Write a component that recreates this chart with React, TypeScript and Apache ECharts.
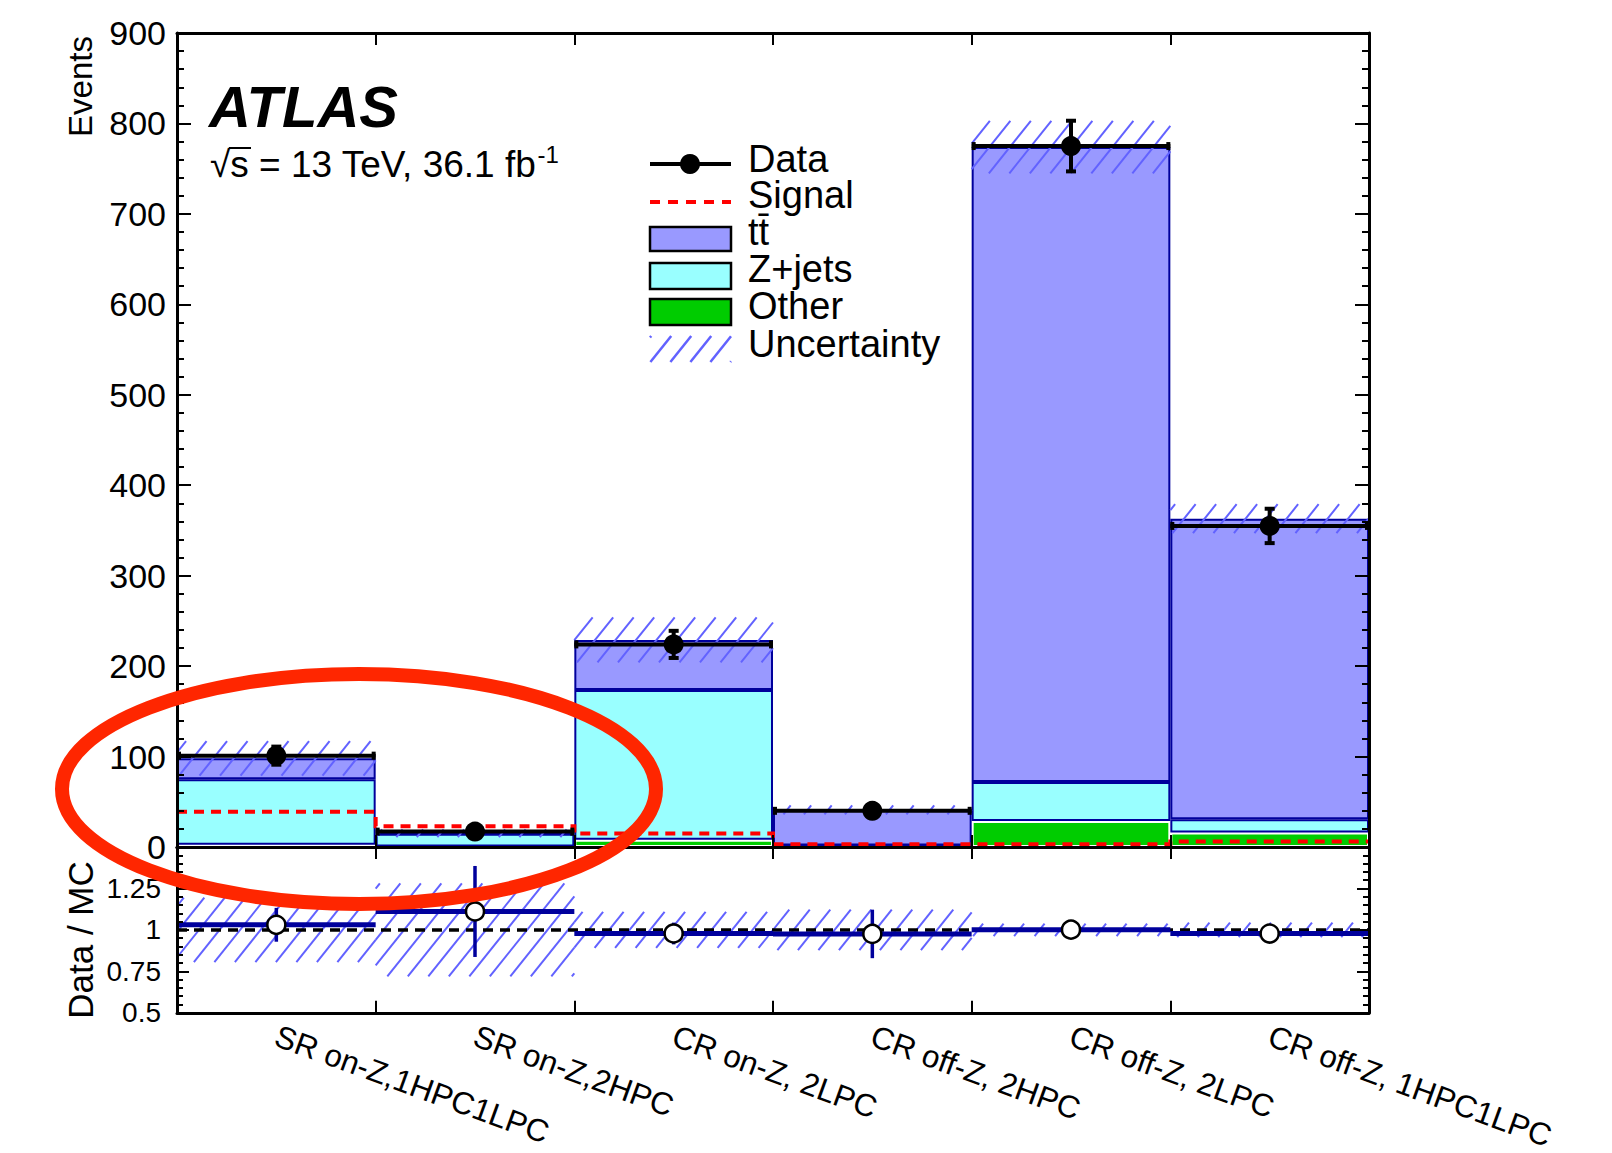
import React, { useEffect, useRef } from 'react';
import * as echarts from 'echarts';

// ---------------- data ----------------
const categories = [
  'SR on-Z,1HPC1LPC',
  'SR on-Z,2HPC',
  'CR on-Z, 2LPC',
  'CR off-Z, 2HPC',
  'CR off-Z, 2LPC',
  'CR off-Z, 1HPC1LPC',
];
const otherBkg = [2.5, 0.5, 8, 0.8, 28.7, 15.9];
const zjetsBkg = [72.5, 14.2, 165.5, 0.8, 43.2, 14.7];
const ttbarBkg = [23, 0.6, 55.5, 39.4, 702, 332.4];
const dataObs = [101, 17, 224, 40, 775, 355];
const dataErr = [10, 4.2, 15, 6, 28, 19];
const mcUnc = [19, 4.3, 25, 5, 29, 16];
const signal = [39, 23, 15, 3, 3, 6];
const mainTicks = { min: 0, max: 900, interval: 100 };
const ratioTicks = { min: 0.5, max: 1.5, interval: 0.25 };

const FONT = "'Liberation Sans', Arial, Helvetica, sans-serif";
const NAVY = '#00009c';
const HATCH = '#6262ff';
const C_TT = '#9999ff';
const C_ZJ = '#99ffff';
const C_OT = '#00cc00';

const totals = otherBkg.map((v, i) => v + zjetsBkg[i] + ttbarBkg[i]);

function hatch(x0: number, y0: number, x1: number, y1: number, sp: number, m: number, color: string, lw: number) {
  const out: any[] = [];
  const step = m * sp;
  const cmin = m * x0 + y0;
  const cmax = m * x1 + y1;
  for (let c = Math.ceil(cmin / step) * step; c <= cmax; c += step) {
    const xa = Math.max(x0, (c - y1) / m);
    const xb = Math.min(x1, (c - y0) / m);
    if (xb - xa > 0.5) {
      out.push({
        type: 'line',
        silent: true,
        shape: { x1: xa, y1: c - m * xa, x2: xb, y2: c - m * xb },
        style: { stroke: color, lineWidth: lw },
      });
    }
  }
  return out;
}

function buildOption(): any {
  const tickLine = { color: '#000', width: 2 };
  const frameLine = { color: '#000', width: 3 };
  const catAxis = (gridIndex: number, position: string, showLabel: boolean) => ({
    type: 'category',
    data: categories,
    gridIndex,
    position,
    z: 10,
    boundaryGap: true,
    axisLine: { show: true, onZero: false, lineStyle: frameLine },
    axisTick: { show: true, inside: true, length: 12, lineStyle: tickLine },
    axisLabel: showLabel
      ? { show: true, interval: 0, rotate: -20, fontSize: 31.5, color: '#000', fontFamily: FONT, margin: 22 }
      : { show: false },
    splitLine: { show: false },
  });
  const valAxis = (gridIndex: number, position: string, showLabel: boolean, ticks: any, ratio: boolean) => ({
    type: 'value',
    gridIndex,
    position,
    min: ticks.min,
    max: ticks.max,
    interval: ticks.interval,
    z: 10,
    axisLine: { show: true, onZero: false, lineStyle: frameLine },
    axisTick: { show: true, inside: true, length: ratio ? 12 : 14, lineStyle: tickLine },
    minorTick: { show: true, splitNumber: 5, length: ratio ? 6 : 7, lineStyle: tickLine },
    axisLabel: showLabel
      ? {
          show: true,
          fontSize: ratio ? 28 : 34,
          color: '#000',
          fontFamily: FONT,
          margin: ratio ? 16 : 11,
          formatter: (v: number) => (ratio && v >= 1.5 ? '' : String(v)),
        }
      : { show: false },
    splitLine: { show: false },
    minorSplitLine: { show: false },
  });

  const mainHatchData = totals.map((t, i) => [i, t - mcUnc[i], t + mcUnc[i]]);
  const ratioHatchData = totals.map((t, i) => [i, 1 - mcUnc[i] / t, 1 + mcUnc[i] / t]);
  const dataPts = dataObs.map((d, i) => [i, d, dataErr[i]]);
  const ratioPts = dataObs.map((d, i) => [i, d / totals[i], dataErr[i] / totals[i]]);

  const hatchRender = (params: any, api: any) => {
    const i = api.value(0);
    const lo = api.coord([i, api.value(1)]);
    const hi = api.coord([i, api.value(2)]);
    const w = api.size([1, 0])[0];
    return {
      type: 'group',
      children: hatch(lo[0] - w / 2, hi[1], lo[0] + w / 2, lo[1], 20.5, 1.25, HATCH, 2),
    };
  };

  const legendX0 = 650;
  const legendX1 = 731;
  const legendTextX = 748;
  const legendText = (t: string, y: number) => ({
    type: 'text',
    x: legendTextX,
    y,
    z: 50,
    style: {
      text: t, fontSize: 38, lineHeight: 34, fontFamily: FONT, fill: '#000',
      verticalAlign: 'middle', align: 'left',
    },
  });
  const legendBox = (y0: number, y1: number, fill: string) => ({
    type: 'rect',
    z: 50,
    shape: { x: legendX0, y: y0, width: legendX1 - legendX0, height: y1 - y0 },
    style: { fill, stroke: '#000', lineWidth: 2.5 },
  });

  return {
    animation: false,
    backgroundColor: '#ffffff',
    grid: [
      { left: 177, top: 33, width: 1192, height: 814 },
      { left: 177, top: 847, width: 1192, height: 166 },
    ],
    xAxis: [catAxis(0, 'bottom', false), catAxis(0, 'top', false), catAxis(1, 'bottom', true), catAxis(1, 'top', false)],
    yAxis: [
      valAxis(0, 'left', true, mainTicks, false),
      valAxis(0, 'right', false, mainTicks, false),
      valAxis(1, 'left', true, ratioTicks, true),
      valAxis(1, 'right', false, ratioTicks, true),
    ],
    series: [
      {
        type: 'bar', name: 'Other', stack: 'mc', xAxisIndex: 0, yAxisIndex: 0, data: otherBkg,
        barWidth: '100%', barCategoryGap: '0%', z: 2,
        itemStyle: { color: C_OT, borderColor: '#ffffff', borderWidth: 2 },
      },
      {
        type: 'bar', name: 'Z+jets', stack: 'mc', xAxisIndex: 0, yAxisIndex: 0, data: zjetsBkg,
        barWidth: '100%', barCategoryGap: '0%', z: 2,
        itemStyle: { color: C_ZJ, borderColor: NAVY, borderWidth: 2 },
      },
      {
        type: 'bar', name: 'tt', stack: 'mc', xAxisIndex: 0, yAxisIndex: 0, data: ttbarBkg,
        barWidth: '100%', barCategoryGap: '0%', z: 2,
        itemStyle: { color: C_TT, borderColor: NAVY, borderWidth: 2 },
      },
      {
        type: 'custom', name: 'Uncertainty', xAxisIndex: 0, yAxisIndex: 0, z: 3,
        data: mainHatchData, encode: { x: 0, y: [1, 2] }, renderItem: hatchRender,
      },
      {
        type: 'custom', name: 'Signal', xAxisIndex: 0, yAxisIndex: 0, z: 4,
        data: [[0, 0]], encode: { x: 0, y: 1 },
        renderItem: (params: any, api: any) => {
          const w = api.size([1, 0])[0];
          const pts: number[][] = [];
          signal.forEach((s, i) => {
            const c = api.coord([i, s]);
            pts.push([c[0] - w / 2, c[1]]);
            pts.push([c[0] + w / 2, c[1]]);
          });
          return {
            type: 'polyline',
            shape: { points: pts },
            style: { stroke: '#ff0000', lineWidth: 4, lineDash: [10, 7], fill: null },
          };
        },
      },
      {
        type: 'custom', name: 'Data', xAxisIndex: 0, yAxisIndex: 0, z: 5,
        data: dataPts, encode: { x: 0, y: 1 },
        renderItem: (params: any, api: any) => {
          const i = api.value(0);
          const v = api.value(1);
          const e = api.value(2);
          const c = api.coord([i, v]);
          const up = api.coord([i, v + e]);
          const dn = api.coord([i, v - e]);
          const w = api.size([1, 0])[0];
          const xl = c[0] - w / 2;
          const xr = c[0] + w / 2;
          const st = { stroke: '#000', lineWidth: 4 };
          return {
            type: 'group',
            children: [
              { type: 'line', shape: { x1: xl, y1: c[1], x2: xr, y2: c[1] }, style: st },
              { type: 'line', shape: { x1: xl + 2, y1: c[1] - 4, x2: xl + 2, y2: c[1] + 4 }, style: st },
              { type: 'line', shape: { x1: xr - 2, y1: c[1] - 4, x2: xr - 2, y2: c[1] + 4 }, style: st },
              { type: 'line', shape: { x1: c[0], y1: up[1], x2: c[0], y2: dn[1] }, style: st },
              { type: 'line', shape: { x1: c[0] - 5, y1: up[1], x2: c[0] + 5, y2: up[1] }, style: st },
              { type: 'line', shape: { x1: c[0] - 5, y1: dn[1], x2: c[0] + 5, y2: dn[1] }, style: st },
              { type: 'circle', shape: { cx: c[0], cy: c[1], r: 10 }, style: { fill: '#000' } },
            ],
          };
        },
      },
      {
        type: 'custom', name: 'RatioUnc', xAxisIndex: 2, yAxisIndex: 2, z: 3,
        data: ratioHatchData, encode: { x: 0, y: [1, 2] }, renderItem: hatchRender,
      },
      {
        type: 'custom', name: 'Unity', xAxisIndex: 2, yAxisIndex: 2, z: 5,
        data: [[0, 1]], encode: { x: 0, y: 1 },
        renderItem: (params: any, api: any) => {
          const w = api.size([1, 0])[0];
          const a = api.coord([0, 1]);
          const b = api.coord([categories.length - 1, 1]);
          return {
            type: 'line',
            shape: { x1: a[0] - w / 2, y1: a[1], x2: b[0] + w / 2, y2: b[1] },
            style: { stroke: '#000', lineWidth: 3.5, lineDash: [10, 7] },
          };
        },
      },
      {
        type: 'custom', name: 'Ratio', xAxisIndex: 2, yAxisIndex: 2, z: 6,
        data: ratioPts, encode: { x: 0, y: 1 },
        renderItem: (params: any, api: any) => {
          const i = api.value(0);
          const v = api.value(1);
          const e = api.value(2);
          const c = api.coord([i, v]);
          const up = api.coord([i, v + e]);
          const dn = api.coord([i, v - e]);
          const w = api.size([1, 0])[0];
          return {
            type: 'group',
            children: [
              { type: 'line', shape: { x1: c[0] - w / 2, y1: c[1], x2: c[0] + w / 2, y2: c[1] }, style: { stroke: NAVY, lineWidth: 5 } },
              { type: 'line', shape: { x1: c[0], y1: up[1], x2: c[0], y2: dn[1] }, style: { stroke: NAVY, lineWidth: 3.5 } },
              { type: 'circle', z2: 10, shape: { cx: c[0], cy: c[1], r: 9 }, style: { fill: '#fff', stroke: '#000', lineWidth: 2.5 } },
            ],
          };
        },
      },
    ],
    graphic: [
      // axis titles
      {
        type: 'text', x: 80, y: 36, rotation: Math.PI / 2, z: 50,
        style: { text: 'Events', fontSize: 33, fontFamily: FONT, fill: '#000', align: 'right', verticalAlign: 'middle' },
      },
      {
        type: 'text', x: 80, y: 940, rotation: Math.PI / 2, z: 50,
        style: { text: 'Data / MC', fontSize: 35, fontFamily: FONT, fill: '#000', align: 'center', verticalAlign: 'middle' },
      },
      // ATLAS label
      {
        type: 'text', x: 209, y: 106, z: 50,
        style: {
          text: 'ATLAS', fontSize: 58, fontWeight: 'bold', fontStyle: 'italic', fontFamily: FONT,
          fill: '#000', align: 'left', verticalAlign: 'middle',
        },
      },
      {
        type: 'text', x: 210, y: 163, z: 50,
        style: {
          text: '{m|√s = 13 TeV, 36.1 fb}{s|-1}',
          fill: '#000', align: 'left', verticalAlign: 'middle',
          rich: {
            m: { fontSize: 37, fontFamily: FONT, fill: '#000', verticalAlign: 'bottom', lineHeight: 40 },
            s: { fontSize: 24, fontFamily: FONT, fill: '#000', verticalAlign: 'bottom', lineHeight: 24, padding: [0, 0, 17, 1] },
          },
        },
      },
      {
        type: 'line', z: 50,
        shape: { x1: 229, y1: 148, x2: 251, y2: 148 },
        style: { stroke: '#000', lineWidth: 2 },
      },
      // legend
      { type: 'line', z: 50, shape: { x1: legendX0, y1: 164, x2: legendX1, y2: 164 }, style: { stroke: '#000', lineWidth: 4 } },
      { type: 'circle', z: 51, shape: { cx: 690, cy: 164, r: 10 }, style: { fill: '#000' } },
      legendText('Data', 159),
      { type: 'line', z: 50, shape: { x1: legendX0, y1: 202, x2: legendX1, y2: 202 }, style: { stroke: '#ff0000', lineWidth: 4, lineDash: [10, 8] } },
      legendText('Signal', 195),
      legendBox(227, 251, C_TT),
      legendText('tt\u0304', 232),
      legendBox(263, 289, C_ZJ),
      legendText('Z+jets', 269),
      legendBox(299, 325, C_OT),
      legendText('Other', 306),
      { type: 'group', z: 50, children: hatch(legendX0, 336, legendX1, 362, 20, 1.25, HATCH, 2.5) },
      legendText('Uncertainty', 344),
      // red annotation ellipse
      {
        type: 'ellipse', z: 100,
        shape: { cx: 359, cy: 789, rx: 297, ry: 115 },
        style: { fill: 'none', stroke: '#ff2600', lineWidth: 14 },
      },
    ],
  };
}

export default function App() {
  const ref = useRef<HTMLDivElement>(null);
  useEffect(() => {
    document.body.style.margin = '0';
    const chart = echarts.init(ref.current as HTMLDivElement, undefined, { renderer: 'svg' });
    chart.setOption(buildOption());
    return () => chart.dispose();
  }, []);
  return (
    <div
      ref={ref}
      style={{ position: 'fixed', left: 0, top: 0, width: 1612, height: 1153, background: '#fff' }}
    />
  );
}
